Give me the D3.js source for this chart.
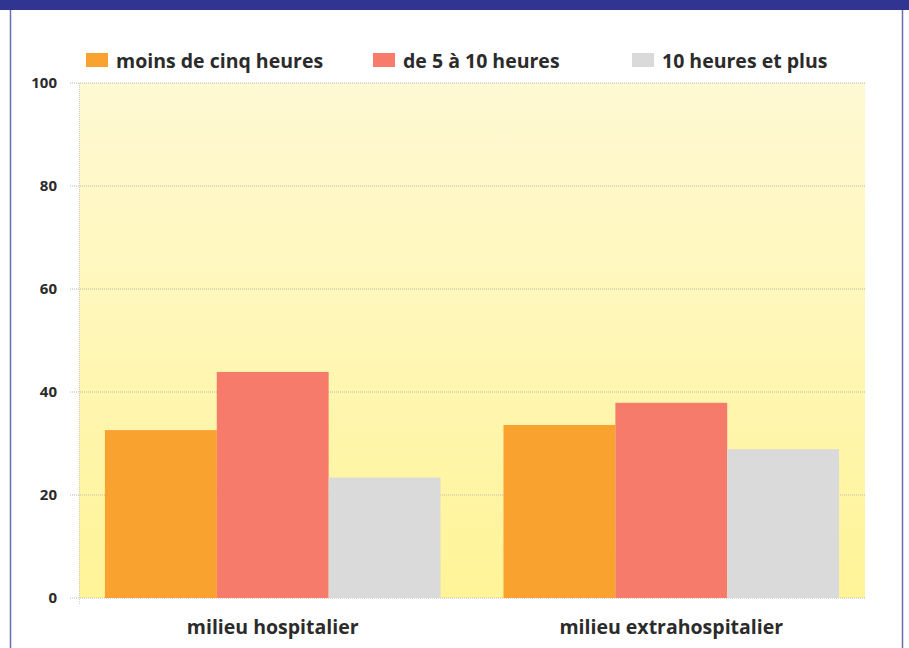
<!DOCTYPE html>
<html>
<head>
<meta charset="utf-8">
<script src="https://cdn.jsdelivr.net/npm/d3@7"></script>
<style>
  body { margin: 0; background: #fff; }
  text { font-family: "Open Sans", "Noto Sans", sans-serif; font-weight: 700; fill: #2b2b2b; }
</style>
</head>
<body>
<script>
// data
const categories = ["milieu hospitalier", "milieu extrahospitalier"];
const series = ["moins de cinq heures", "de 5 à 10 heures", "10 heures et plus"];
const values = [
  [32.6, 43.9, 23.4],
  [33.6, 37.9, 28.9]
];
const ticks = [0, 20, 40, 60, 80, 100];
const colors = ["#f9a22f", "#f67b6a", "#dadada"];

const width = 909, height = 648;
const margin = {left: 79, right: 44, top: 83, bottom: 50};

const svg = d3.select("body").append("svg")
    .attr("width", width)
    .attr("height", height);

// frame
svg.append("rect").attr("x", 0).attr("y", 0).attr("width", width).attr("height", 10).attr("fill", "#2f3590");
svg.append("line").attr("x1", 10.5).attr("x2", 10.5).attr("y1", 10).attr("y2", height)
    .attr("stroke", "#6a6db0").attr("stroke-width", 1.5);
svg.append("line").attr("x1", 902.5).attr("x2", 902.5).attr("y1", 10).attr("y2", height)
    .attr("stroke", "#6a6db0").attr("stroke-width", 1.5);

const x0 = d3.scaleBand()
    .domain(categories)
    .range([margin.left, width - margin.right])
    .paddingInner(0.158)
    .paddingOuter(0.065);

const x1 = d3.scaleBand()
    .domain(series)
    .range([0, x0.bandwidth()]);

const y = d3.scaleLinear()
    .domain([0, 100])
    .range([height - margin.bottom, margin.top]);

const defs = svg.append("defs");
const grad = defs.append("linearGradient").attr("id", "bg")
    .attr("x1", 0).attr("x2", 0).attr("y1", 0).attr("y2", 1);
grad.append("stop").attr("offset", "0%").attr("stop-color", "#fff9d4");
grad.append("stop").attr("offset", "100%").attr("stop-color", "#fff497");

svg.append("rect")
    .attr("x", margin.left)
    .attr("y", y(100))
    .attr("width", width - margin.right - margin.left)
    .attr("height", y(0) - y(100))
    .attr("fill", "url(#bg)");

// left edge of plot
svg.append("line")
    .attr("x1", margin.left + 0.5).attr("x2", margin.left + 0.5)
    .attr("y1", y(100)).attr("y2", y(0) + 6)
    .attr("stroke", "#cfcfcf").attr("stroke-dasharray", "1,1");

// gridlines + tick labels
const yAxis = svg.append("g")
  .selectAll("g")
  .data(ticks)
  .join("g")
    .attr("transform", d => `translate(0,${y(d)})`);

yAxis.append("line")
    .attr("x1", 70).attr("x2", width - margin.right)
    .attr("stroke", "#b9b6a8").attr("stroke-dasharray", "1,1");

yAxis.append("text")
    .attr("x", 57)
    .attr("dy", "0.35em")
    .attr("text-anchor", "end")
    .attr("font-size", 15)
    .text(d => d);

// bars
svg.append("g")
  .selectAll("g")
  .data(values)
  .join("g")
    .attr("transform", (d, i) => `translate(${x0(categories[i])},0)`)
  .selectAll("rect")
  .data(d => d)
  .join("rect")
    .attr("x", (d, j) => x1(series[j]))
    .attr("y", d => y(d))
    .attr("width", x1.bandwidth())
    .attr("height", d => y(0) - y(d))
    .attr("fill", (d, j) => colors[j]);

// category labels
svg.append("g")
  .selectAll("text")
  .data(categories)
  .join("text")
    .attr("x", d => x0(d) + x0.bandwidth() / 2)
    .attr("y", 634)
    .attr("text-anchor", "middle")
    .attr("font-size", 19.5)
    .text(d => d);

// legend
const legendX = [86, 373, 632];
const legend = svg.append("g")
  .selectAll("g")
  .data(series)
  .join("g")
    .attr("transform", (d, i) => `translate(${legendX[i]},53)`);

legend.append("rect")
    .attr("width", 22)
    .attr("height", 14)
    .attr("fill", (d, i) => colors[i]);

legend.append("text")
    .attr("x", 30)
    .attr("y", 15)
    .attr("font-size", 19.5)
    .text(d => d);
</script>
</body>
</html>
